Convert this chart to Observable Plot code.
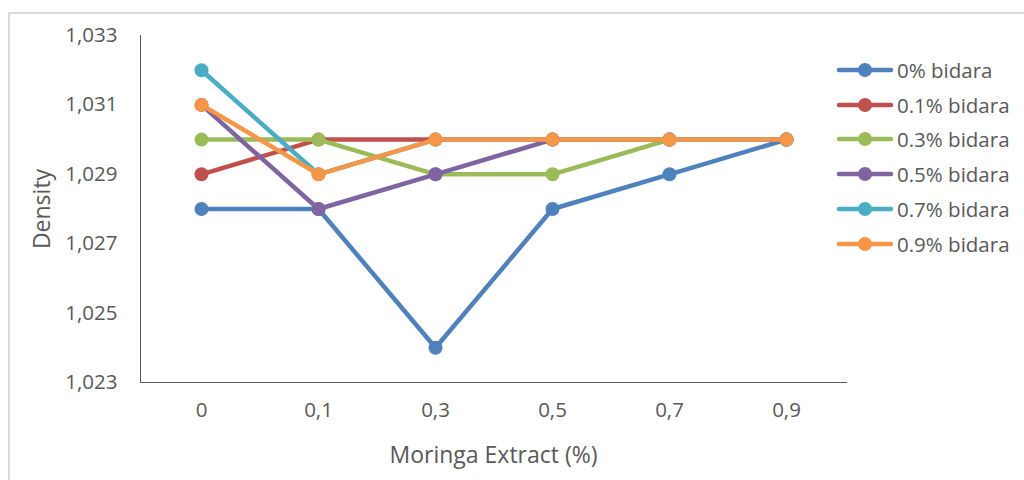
<!DOCTYPE html>
<html>
<head>
<meta charset="utf-8">
<script src="https://cdn.jsdelivr.net/npm/d3@7"></script>
<script src="https://cdn.jsdelivr.net/npm/@observablehq/plot@0.6"></script>
<style>
  html, body { margin: 0; padding: 0; background: #fff; }
  #wrap { position: relative; width: 1024px; height: 480px; overflow: hidden; font-family: "Open Sans", Lato, sans-serif; }
  #edge { position: absolute; left: 8px; top: 12px; right: -2px; bottom: -2px; border-left: 2px solid #d9d9d9; border-top: 2px solid #d9d9d9; }
  #chart { position: absolute; left: 0; top: 0; }
  #legend { position: absolute; left: 0; top: 0; }
  .item { position: absolute; left: 836px; height: 20px; display: flex; align-items: center; }
  .item span { margin-left: 3px; font-size: 20.5px; color: #595959; white-space: nowrap; }
</style>
</head>
<body>
<div id="wrap">
  <div id="edge"></div>
  <div id="chart"></div>
  <div id="legend"></div>
</div>
<script>
// Moringa extract levels (x categories)
const extract = ["0", "0,1", "0,3", "0,5", "0,7", "0,9"];

// Density series, one per bidara concentration
const seriesNames = ["0% bidara", "0.1% bidara", "0.3% bidara", "0.5% bidara", "0.7% bidara", "0.9% bidara"];
const bidara0 = [1.028, 1.028, 1.024, 1.028, 1.029, 1.030];
const bidara01 = [1.029, 1.030, 1.030, 1.030, 1.030, 1.030];
const bidara03 = [1.030, 1.030, 1.029, 1.029, 1.030, 1.030];
const bidara05 = [1.031, 1.028, 1.029, 1.030, 1.030, 1.030];
const bidara07 = [1.032, 1.029, 1.030, 1.030, 1.030, 1.030];
const bidara09 = [1.031, 1.029, 1.030, 1.030, 1.030, 1.030];
const seriesColors = ["#4F81BD", "#C0504D", "#9BBB59", "#8064A2", "#4BACC6", "#F79646"];

// Y axis ticks
const yTicks = [1.023, 1.025, 1.027, 1.029, 1.031, 1.033];

const allSeries = [bidara0, bidara01, bidara03, bidara05, bidara07, bidara09];
const comma = d => d3.format(".3f")(d).replace(".", ",");

const marks = [];
allSeries.forEach((vals, i) => {
  const rows = vals.map((v, j) => ({x: extract[j], y: v}));
  marks.push(Plot.line(rows, {x: "x", y: "y", stroke: seriesColors[i], strokeWidth: 4.5}));
  marks.push(Plot.dot(rows, {x: "x", y: "y", r: 7, fill: seriesColors[i], stroke: "none"}));
});

const chart = Plot.plot({
  width: 1024,
  height: 480,
  marginLeft: 140,
  marginRight: 178,
  marginTop: 35,
  marginBottom: 98,
  style: {fontFamily: "'Open Sans', Lato, sans-serif", fontSize: "20.5px", color: "#595959", background: "transparent", overflow: "visible"},
  x: {type: "point", domain: extract, padding: 0.5, tickSize: 0, tickPadding: 20, label: null, line: true},
  y: {domain: [1.023, 1.033], ticks: yTicks, tickFormat: comma, tickSize: 0, tickPadding: 23, label: null, line: true},
  marks: [
    ...marks,
    Plot.text(["Density"], {frameAnchor: "left", dx: -98, rotate: -90, textAnchor: "middle", lineAnchor: "middle", fontSize: 23, fill: "#595959"}),
    Plot.text(["Moringa Extract (%)"], {frameAnchor: "bottom", dy: 73, textAnchor: "middle", lineAnchor: "middle", fontSize: 23, fill: "#595959"})
  ]
});
// axis lines in black
d3.select(chart).selectAll("[aria-label$='axis line'] *").attr("stroke", "#000").attr("stroke-width", 1.5);
document.getElementById("chart").append(chart);

// Legend
const legendY = [70, 105, 139, 174, 209, 244];
const legend = d3.select("#legend");
seriesNames.forEach((name, i) => {
  const item = legend.append("div").attr("class", "item").style("top", (legendY[i] - 10) + "px");
  const svg = item.append("svg").attr("width", 58).attr("height", 20);
  svg.append("line").attr("x1", 3).attr("x2", 55).attr("y1", 10).attr("y2", 10)
    .attr("stroke", seriesColors[i]).attr("stroke-width", 4.5).attr("stroke-linecap", "round");
  svg.append("circle").attr("cx", 29).attr("cy", 10).attr("r", 7).attr("fill", seriesColors[i]);
  item.append("span").text(name);
});
</script>
</body>
</html>
